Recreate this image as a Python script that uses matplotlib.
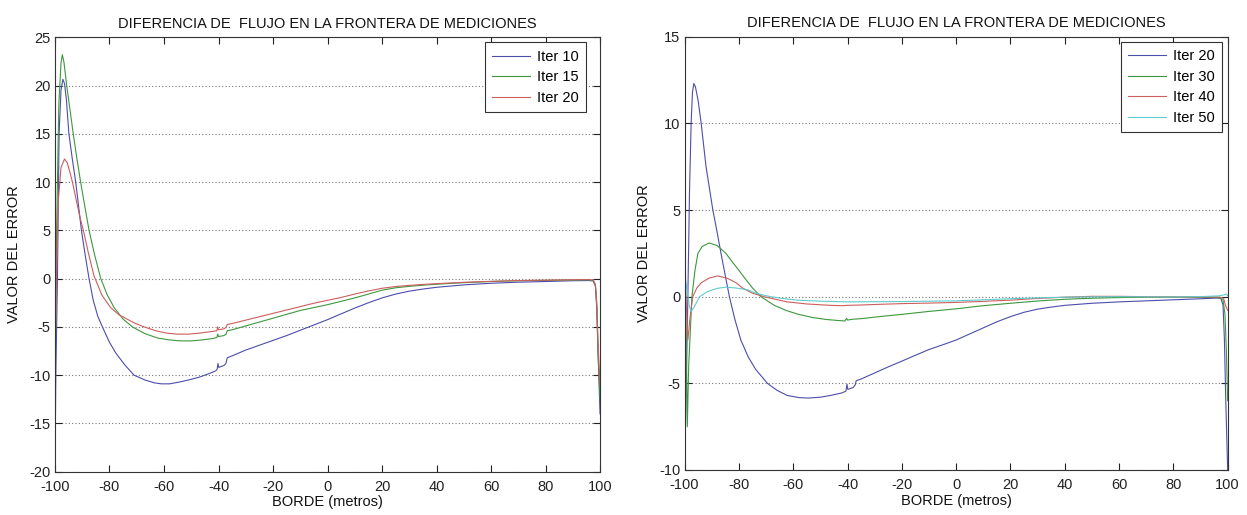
import matplotlib
matplotlib.use("Agg")
import matplotlib.pyplot as plt
from matplotlib import font_manager

# ---------------- data ----------------
TITLE = "DIFERENCIA DE  FLUJO EN LA FRONTERA DE MEDICIONES"
XLABEL = "BORDE (metros)"
YLABEL = "VALOR DEL ERROR"
XTICKS = [-100, -80, -60, -40, -20, 0, 20, 40, 60, 80, 100]
YTICKS_LEFT = [-20, -15, -10, -5, 0, 5, 10, 15, 20, 25]
YTICKS_RIGHT = [-10, -5, 0, 5, 10, 15]
LABELS_LEFT = ["Iter 10", "Iter 15", "Iter 20"]
LABELS_RIGHT = ["Iter 20", "Iter 30", "Iter 40", "Iter 50"]

ITER10_L = [(-100, -20), (-99.7, -10), (-99.1, 0), (-98.5, 15), (-97.8, 19.5), (-97.1, 20.65),
            (-96.5, 20.2), (-95.8, 18.5), (-94.9, 15), (-93.6, 12.3), (-92.4, 10), (-91.3, 7.4),
            (-90.3, 5), (-88.9, 2.4), (-87.5, 0), (-86, -2.2), (-84.3, -3.9), (-82.6, -5),
            (-80, -6.6), (-77.7, -7.7), (-74.5, -8.9), (-71, -10), (-67, -10.5), (-63.5, -10.8),
            (-61, -10.9), (-58, -10.9), (-55, -10.75), (-51, -10.5), (-47, -10.2), (-44, -9.9),
            (-41, -9.55), (-40.5, -9.4), (-40.2, -8.8), (-39.9, -9.2), (-39, -9.1), (-38, -9.0),
            (-37.3, -8.8), (-36.8, -8.2), (-35, -8.0), (-30, -7.4), (-25, -6.9), (-20, -6.4),
            (-15, -5.9), (-10, -5.35), (-5, -4.8), (0, -4.25), (5, -3.65), (10, -3.05),
            (15, -2.5), (20, -2.0), (25, -1.6), (30, -1.3), (35, -1.08), (40, -0.9),
            (50, -0.65), (60, -0.48), (70, -0.37), (80, -0.3), (90, -0.22), (96, -0.2),
            (97.5, -0.25), (98.3, -0.8), (98.8, -3), (99.3, -8), (100, -14)]

ITER15_L = [(-100, -12), (-99.4, 5), (-98.6, 18), (-97.8, 22.3), (-97.3, 23.2), (-96.7, 22.4),
            (-95.7, 20), (-94.5, 17.5), (-93.3, 15), (-92, 12.5), (-90.6, 10), (-89, 7.4),
            (-87.5, 5), (-85.5, 2.5), (-83.2, 0), (-80.8, -1.7), (-78.3, -3), (-75, -4.2),
            (-71.6, -5), (-67, -5.7), (-62.4, -6.15), (-58, -6.35), (-54, -6.45), (-50, -6.45),
            (-46, -6.35), (-42, -6.2), (-40.6, -6.1), (-40.3, -5.75), (-40, -6.0), (-39, -5.95),
            (-38, -5.9), (-37.2, -5.75), (-36.8, -5.4), (-35, -5.3), (-30, -4.9), (-25, -4.5),
            (-20, -4.1), (-15, -3.7), (-10, -3.3), (-5, -3.0), (0, -2.7), (5, -2.35),
            (10, -2.0), (15, -1.6), (20, -1.2), (25, -0.95), (30, -0.8), (35, -0.68),
            (40, -0.58), (50, -0.42), (60, -0.3), (70, -0.22), (80, -0.18), (90, -0.14),
            (96, -0.12), (97.5, -0.2), (98.3, -0.7), (98.8, -3), (99.3, -8), (100, -12.5)]

ITER20_L = [(-100, -9), (-99.5, 0), (-98.8, 8), (-97.8, 11.5), (-96.5, 12.4), (-95.5, 12.0),
            (-94.5, 11), (-93.6, 10), (-92.7, 8.8), (-91.8, 7.6), (-90.7, 6.2), (-89.6, 5),
            (-87.7, 2.6), (-85.7, 0.3), (-82.8, -1.7), (-79.6, -3), (-76.5, -3.75), (-73.5, -4.2),
            (-70.5, -4.65), (-67.3, -5), (-63, -5.4), (-59, -5.65), (-55, -5.75), (-51, -5.75),
            (-47, -5.65), (-43, -5.5), (-40.6, -5.4), (-40.3, -5.0), (-40, -5.3), (-39, -5.25),
            (-38, -5.2), (-37.2, -5.05), (-36.8, -4.75), (-35, -4.65), (-30, -4.3), (-25, -3.95),
            (-20, -3.6), (-15, -3.25), (-10, -2.9), (-5, -2.55), (0, -2.25), (5, -1.95),
            (10, -1.6), (15, -1.28), (20, -1.0), (25, -0.82), (30, -0.7), (35, -0.6),
            (40, -0.52), (50, -0.38), (60, -0.28), (70, -0.2), (80, -0.16), (90, -0.12),
            (96, -0.1), (97.5, -0.15), (98.3, -0.6), (98.8, -2.5), (99.3, -7), (100, -11)]

ITER20_R = [(-100, -10), (-99.5, -6), (-98.8, 0), (-98.2, 6), (-97.6, 10), (-97.1, 11.8),
            (-96.6, 12.3), (-96, 12.1), (-95, 11.3), (-93.9, 10), (-92.1, 7.5), (-89.6, 5),
            (-88, 3.7), (-86.6, 2.5), (-85, 1.2), (-83.5, 0), (-81.5, -1.3), (-79.3, -2.5),
            (-76.5, -3.5), (-73.8, -4.2), (-69.5, -5), (-66, -5.4), (-62.2, -5.7), (-58, -5.82),
            (-54.5, -5.85), (-50, -5.8), (-46.3, -5.7), (-42, -5.55), (-40.6, -5.45),
            (-40.2, -5.05), (-39.9, -5.35), (-39, -5.3), (-38, -5.25), (-37.2, -5.1),
            (-36.8, -4.85), (-35, -4.75), (-30, -4.4), (-25, -4.05), (-20, -3.72), (-15, -3.38),
            (-10, -3.05), (-5, -2.78), (0, -2.5), (5, -2.15), (10, -1.8), (15, -1.45),
            (20, -1.15), (25, -0.9), (30, -0.72), (35, -0.6), (40, -0.5), (50, -0.38),
            (60, -0.3), (70, -0.24), (80, -0.18), (90, -0.12), (96, -0.08), (97.5, -0.1),
            (98.3, -0.5), (98.8, -2.5), (99.3, -6), (100, -10)]

ITER30_R = [(-100, 7), (-99.6, 0), (-99, -7.5), (-98.5, -4), (-97.3, 0), (-96.2, 1.5),
            (-95.1, 2.5), (-93.5, 2.9), (-90.9, 3.1), (-88, 2.95), (-84.8, 2.5), (-82.4, 2.0),
            (-79.9, 1.5), (-77.5, 1.0), (-75, 0.5), (-71.9, 0), (-67, -0.5), (-62.5, -0.8),
            (-58.5, -1.0), (-53, -1.2), (-47.6, -1.32), (-43, -1.38), (-41, -1.4),
            (-40.3, -1.25), (-40, -1.35), (-38, -1.3), (-35, -1.27), (-30, -1.18), (-20, -1.02),
            (-10, -0.85), (0, -0.7), (10, -0.52), (20, -0.38), (30, -0.25), (40, -0.15),
            (50, -0.09), (60, -0.05), (70, -0.03), (80, -0.03), (90, -0.04), (97, -0.05),
            (98.3, -0.2), (99, -1), (99.5, -3), (100, -6)]

ITER40_R = [(-100, 2.5), (-99.5, 0), (-98.8, -2.5), (-98, -1.2), (-97, 0), (-95.5, 0.5),
            (-93.9, 0.8), (-91, 1.07), (-87.8, 1.2), (-84.1, 1.05), (-81, 0.8), (-78.7, 0.5),
            (-75, 0.2), (-70.7, 0), (-66, -0.17), (-62.2, -0.3), (-55, -0.42), (-46.3, -0.5),
            (-42, -0.52), (-40, -0.5), (-35, -0.48), (-30, -0.45), (-20, -0.4), (-10, -0.37),
            (0, -0.33), (10, -0.27), (20, -0.2), (30, -0.1), (40, -0.03), (50, 0.02),
            (60, 0.02), (70, 0.0), (80, -0.01), (90, -0.02), (97, -0.02), (98.5, -0.1),
            (99.2, -0.5), (100, -0.8)]

ITER50_R = [(-100, 1.3), (-99.2, 0.5), (-98.3, -0.5), (-97.6, -0.85), (-96.5, -0.6),
            (-94.5, 0), (-91.5, 0.3), (-88, 0.48), (-84.8, 0.55), (-81, 0.5), (-76.8, 0.4),
            (-73.8, 0.2), (-68.3, 0), (-63, -0.12), (-58.5, -0.2), (-50, -0.26), (-40, -0.3),
            (-30, -0.29), (-20, -0.28), (-10, -0.26), (0, -0.24), (10, -0.18), (20, -0.12),
            (30, -0.07), (40, -0.03), (50, -0.01), (60, 0), (70, -0.01), (80, -0.02),
            (90, 0), (97, 0.05), (99, 0.12), (99.6, 0.15), (100, 0.05)]

COL_BLUE = "#4d4dac"
COL_GREEN = "#3d983d"
COL_RED = "#cd5e5e"
COL_CYAN = "#5ecccc"

# ---------------- style ----------------
avail = {f.name for f in font_manager.fontManager.ttflist}
if "Liberation Sans Narrow" in avail:
    FAM = "Liberation Sans Narrow"
    SZ_TICK, SZ_LAB, SZ_TITLE, SZ_LEG = 12, 12.5, 12.5, 12.5
else:
    FAM = "Liberation Sans" if "Liberation Sans" in avail else "DejaVu Sans"
    SZ_TICK, SZ_LAB, SZ_TITLE, SZ_LEG = 10.5, 10.5, 10.5, 10.5
plt.rcParams["font.family"] = [FAM, "DejaVu Sans"]
plt.rcParams["axes.unicode_minus"] = False

fig = plt.figure(figsize=(12.47, 5.15), dpi=100)
fig.patch.set_facecolor("white")

ax1 = fig.add_axes([0.0441, 0.0841, 0.4371, 0.8435])
ax2 = fig.add_axes([0.5490, 0.0874, 0.4355, 0.8413])


def series(ax, pts, color, label):
    xs = [p[0] for p in pts]
    ys = [p[1] for p in pts]
    ax.plot(xs, ys, color=color, lw=0.8, label=label)


def style(ax, yticks, anchor):
    ax.set_xlim(-100, 100)
    ax.set_ylim(yticks[0], yticks[-1])
    ax.set_xticks(XTICKS)
    ax.set_yticks(yticks)
    ax.tick_params(direction="in", top=True, right=True, length=5, width=0.8,
                   labelsize=SZ_TICK, colors="#222222")
    ax.tick_params(axis="x", pad=6)
    ax.tick_params(axis="y", pad=3)
    for s in ax.spines.values():
        s.set_linewidth(0.8)
        s.set_color("#333333")
    ax.yaxis.grid(True, linestyle=(0, (1, 2)), color="#777777", lw=0.8)
    ax.set_axisbelow(True)
    ax.set_title(TITLE, fontsize=SZ_TITLE, pad=7, color="#111111")
    ax.set_xlabel(XLABEL, fontsize=SZ_LAB, labelpad=1, color="#111111")
    ax.set_ylabel(YLABEL, fontsize=SZ_LAB, labelpad=6, color="#111111")
    leg = ax.legend(loc="upper right", bbox_to_anchor=anchor, borderaxespad=0,
                    fontsize=SZ_LEG, frameon=True, fancybox=False, framealpha=1,
                    edgecolor="#333333", handlelength=2.6, handletextpad=0.5,
                    labelspacing=0.45, borderpad=0.5)
    leg.get_frame().set_linewidth(0.8)


series(ax1, ITER10_L, COL_BLUE, LABELS_LEFT[0])
series(ax1, ITER15_L, COL_GREEN, LABELS_LEFT[1])
series(ax1, ITER20_L, COL_RED, LABELS_LEFT[2])
style(ax1, YTICKS_LEFT, (0.975, 0.988))

series(ax2, ITER20_R, COL_BLUE, LABELS_RIGHT[0])
series(ax2, ITER30_R, COL_GREEN, LABELS_RIGHT[1])
series(ax2, ITER40_R, COL_RED, LABELS_RIGHT[2])
series(ax2, ITER50_R, COL_CYAN, LABELS_RIGHT[3])
style(ax2, YTICKS_RIGHT, (0.99, 0.988))

fig.savefig("out.png", dpi=100, facecolor="white")
